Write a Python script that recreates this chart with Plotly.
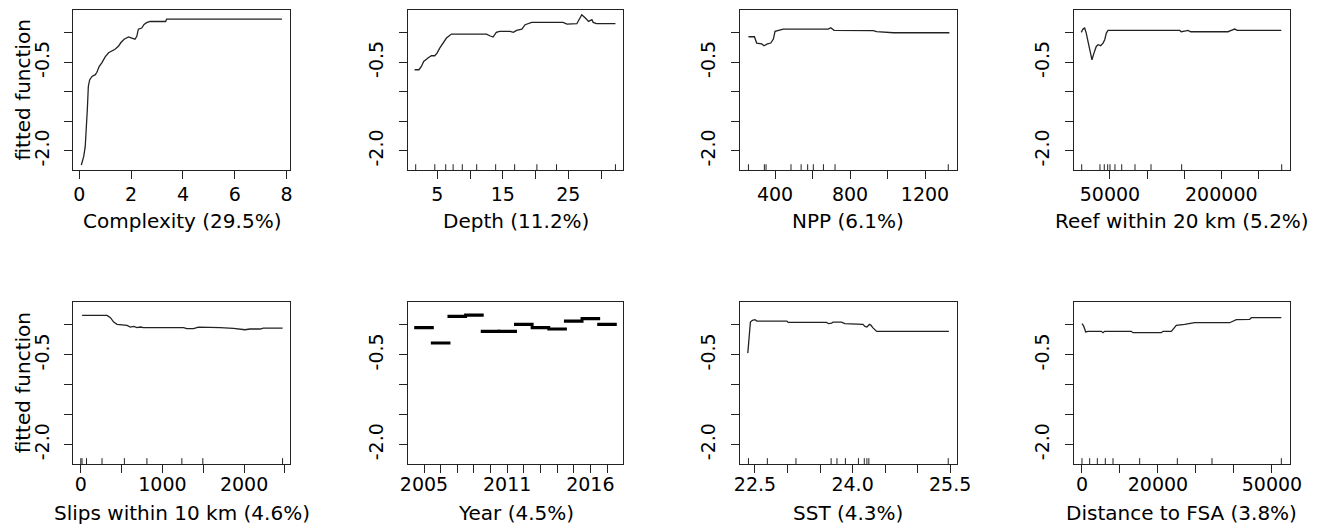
import plotly.graph_objects as go

# ---------------- data ----------------
complexity_x = [0.08, 0.17, 0.23, 0.27, 0.31, 0.35, 0.40, 0.49, 0.62, 0.68, 0.77, 0.87, 1.00, 1.13, 1.38,
                1.51, 1.60, 1.73, 1.90, 2.03, 2.15, 2.22, 2.28, 2.41, 2.50, 2.60, 2.73, 3.33, 3.37, 7.82]
complexity_y = [-2.24, -2.10, -1.93, -1.70, -1.31, -0.91, -0.80, -0.74, -0.71, -0.67, -0.57, -0.51, -0.41, -0.34, -0.28,
                -0.23, -0.17, -0.11, -0.07, -0.09, -0.11, -0.06, 0.06, 0.08, 0.14, 0.17, 0.19, 0.19, 0.23, 0.23]
complexity_rug = []

depth_x = [1.52, 2.18, 2.55, 2.9, 3.56, 4.08, 4.59, 4.94, 5.35, 5.86, 6.38, 7.14, 12.5, 13.0, 13.5, 14.0, 14.5, 16.1,
           16.6, 17.1, 17.9, 18.4, 19.1, 19.4, 24.2, 24.8, 26.3, 26.8, 27.05, 27.6, 28.1, 28.6, 28.8, 29.3, 32.2]
depth_y = [-0.627, -0.627, -0.571, -0.486, -0.429, -0.39, -0.39, -0.345, -0.26, -0.164, -0.09, -0.023, -0.023, -0.051,
           -0.073, 0.006, 0.023, 0.023, 0.006, 0.039, 0.062, 0.136, 0.164, 0.175, 0.175, 0.147, 0.153, 0.249, 0.305,
           0.249, 0.192, 0.22, 0.175, 0.153, 0.153]
depth_rug = [1.68, 4.6, 6.27, 7.4, 8.8, 11.0, 13.9, 16.8, 20.2, 23.2, 32.2]

npp_x = [258, 290, 302, 329, 341, 359, 377, 391, 400, 427, 444, 684, 697, 715, 924, 942, 1022, 1031, 1330]
npp_y = [-0.068, -0.068, -0.175, -0.19, -0.22, -0.19, -0.175, -0.107, 0.023, 0.05, 0.062, 0.062, 0.085, 0.04,
         0.034, 0.017, 0.011, 0.0, 0.0]
npp_rug = [258, 343, 352, 485, 539, 574, 604, 658, 720, 1324]

reef_x = [11300, 13600, 15900, 18000, 20350, 23000, 25700, 28400, 31500, 33800, 37500, 40600, 42900, 45100, 47300,
          143900, 146100, 150700, 155100, 158800, 209000, 213500, 218000, 221600, 280900]
reef_y = [0.006, 0.062, 0.079, -0.006, -0.147, -0.288, -0.458, -0.345, -0.232, -0.203, -0.22, -0.175, -0.119,
          -0.006, 0.039, 0.039, 0.017, 0.028, 0.039, 0.017, 0.017, 0.039, 0.062, 0.039, 0.039]
reef_rug = [11860, 36520, 42300, 46900, 50000, 56700, 65800, 83700, 105300, 146600, 281400]

slips_x = [16, 322, 363, 403, 444, 566, 607, 648, 688, 729, 770, 1259, 1299, 1381, 1442, 1666, 1707, 1870, 1951,
           2012, 2073, 2196, 2236, 2472]
slips_y = [0.157, 0.157, 0.118, 0.045, 0.007, -0.01, -0.038, -0.027, -0.049, -0.038, -0.049, -0.049, -0.066,
           -0.066, -0.038, -0.038, -0.049, -0.06, -0.071, -0.083, -0.071, -0.071, -0.055, -0.055]
slips_rug = [0, 15, 70, 260, 534, 810, 1238, 1495, 2472]

year_cats = ["2005", "2006", "2007", "2008", "2009", "2011", "2012", "2013", "2014", "2015", "2016", "2017"]
year_y = [-0.049, -0.305, 0.14, 0.162, -0.11, -0.11, 0.007, -0.049, -0.071, 0.062, 0.101, 0.007]
year_labels = ["2005", "", "", "", "", "2011", "", "", "", "", "2016", ""]

sst_x = [22.39, 22.40, 22.41, 22.43, 22.46, 22.5, 22.53, 22.99, 23.01, 23.60, 23.63, 23.68, 23.70, 23.83, 23.88,
         24.16, 24.19, 24.22, 24.26, 24.28, 24.31, 24.34, 24.37, 25.48]
sst_y = [-0.473, -0.316, -0.094, 0.045, 0.074, 0.085, 0.062, 0.062, 0.04, 0.04, 0.018, 0.028, 0.045, 0.045, 0.018,
         0.007, -0.027, -0.038, 0.007, -0.005, -0.049, -0.082, -0.11, -0.11]
sst_rug = [22.40, 22.69, 23.13, 23.67, 23.76, 23.89, 24.09, 24.18, 24.22, 24.25, 25.47]

dist_x = [0, 350, 700, 960, 1580, 5090, 5530, 5960, 12980, 13420, 20880, 21320, 23510, 24210, 24820, 27020, 28770,
          29650, 38860, 39740, 40610, 44120, 44560, 52460]
dist_y = [0.018, -0.01, -0.066, -0.121, -0.11, -0.11, -0.133, -0.11, -0.11, -0.133, -0.133, -0.11, -0.11, -0.066,
          -0.01, 0.007, 0.018, 0.034, 0.034, 0.062, 0.085, 0.09, 0.118, 0.118]
dist_rug = [0, 2020, 4040, 6140, 8160, 15180, 25090, 34210, 52460]

titles = ["Complexity (29.5%)", "Depth (11.2%)", "NPP (6.1%)", "Reef within 20 km (5.2%)",
          "Slips within 10 km (4.6%)", "Year (4.5%)", "SST (4.3%)", "Distance to FSA (3.8%)"]

x_tickvals = [
    [0, 2, 4, 6, 8],
    [5, 10, 15, 20, 25, 30],
    [400, 600, 800, 1000, 1200],
    [50000, 100000, 150000, 200000, 250000],
    [0, 500, 1000, 1500, 2000, 2500],
    year_cats,
    [22.5, 23.0, 23.5, 24.0, 24.5, 25.0, 25.5],
    [0, 10000, 20000, 30000, 40000, 50000],
]
x_ticktext = [
    ["0", "2", "4", "6", "8"],
    ["5", "", "15", "", "25", ""],
    ["400", "", "800", "", "1200"],
    ["50000", "", "", "200000", ""],
    ["0", "", "1000", "", "2000", ""],
    year_labels,
    ["22.5", "", "", "24.0", "", "", "25.5"],
    ["0", "", "20000", "", "", "50000"],
]
y_tickvals = [0.0, -0.5, -1.0, -1.5, -2.0]
y_ticktext = ["", "-0.5", "", "", "-2.0"]

# ---------------- layout geometry ----------------
W, H = 1318, 531
col_px = [(73.3, 290.0), (407.7, 623.3), (740.0, 956.7), (1074.0, 1289.7)]
row_px = [(10.0, 170.0), (301.7, 464.0)]
x_ranges = [[-0.23, 8.13], [0.46, 33.4], [213, 1369], [1500, 292200],
            [-92, 2563], [-0.98, 11.98], [22.27, 25.60], [-2100, 54660]]
y_range = [-2.325, 0.385]

FONT = "DejaVu Sans"
TICK_SIZE = 19
TITLE_SIZE = 20

series = [
    (complexity_x, complexity_y, complexity_rug),
    (depth_x, depth_y, depth_rug),
    (npp_x, npp_y, npp_rug),
    (reef_x, reef_y, reef_rug),
    (slips_x, slips_y, slips_rug),
    (None, None, None),
    (sst_x, sst_y, sst_rug),
    (dist_x, dist_y, dist_rug),
]

fig = go.Figure()
layout = dict(
    template="none",
    width=W, height=H, margin=dict(l=0, r=0, t=0, b=0, pad=0), autosize=False,
    paper_bgcolor="white", plot_bgcolor="white", showlegend=False,
    font=dict(family=FONT, color="black", size=TICK_SIZE),
)
shapes = []
annotations = []

for i in range(8):
    n = i + 1
    r, c = divmod(i, 4)
    x0, x1 = col_px[c]
    top, bot = row_px[r]
    xa = "x" if n == 1 else f"x{n}"
    ya = "y" if n == 1 else f"y{n}"
    xkey = "xaxis" if n == 1 else f"xaxis{n}"
    ykey = "yaxis" if n == 1 else f"yaxis{n}"

    xaxis = dict(
        domain=[x0 / W, x1 / W], anchor=ya, range=x_ranges[i], automargin=False,
        showgrid=False, zeroline=False, showline=True, mirror=True,
        linecolor="#222", linewidth=1,
        ticks="outside", ticklen=8, tickwidth=1, tickcolor="#222",
        tickmode="array", tickvals=x_tickvals[i], ticktext=x_ticktext[i],
        tickfont=dict(family=FONT, size=TICK_SIZE, color="black"),
        ticklabelstandoff=-1 if r == 0 else -5,
    )
    if i == 5:
        xaxis["type"] = "category"
        xaxis["categoryorder"] = "array"
        xaxis["categoryarray"] = year_cats
    layout[xkey] = xaxis
    layout[ykey] = dict(
        domain=[1 - bot / H, 1 - top / H], anchor=xa, range=y_range, automargin=False,
        showgrid=False, zeroline=False, showline=True, mirror=True,
        linecolor="#222", linewidth=1,
        ticks="outside", ticklen=8, tickwidth=1, tickcolor="#222",
        tickmode="array", tickvals=y_tickvals, ticktext=y_ticktext,
        tickangle=-90, tickfont=dict(family=FONT, size=TICK_SIZE, color="black"),
        ticklabelstandoff=8,
    )

    xs, ys, rug = series[i]
    if i == 5:
        fig.add_trace(go.Scatter(
            x=year_cats, y=year_y, xaxis=xa, yaxis=ya, mode="markers",
            marker=dict(symbol="line-ew", size=14, color="black",
                        line=dict(color="black", width=3.2)),
            hoverinfo="x+y"))
    else:
        fig.add_trace(go.Scatter(
            x=xs, y=ys, xaxis=xa, yaxis=ya, mode="lines",
            line=dict(color="#222", width=1.3)))
        for v in rug:
            shapes.append(dict(type="line", xref=xa, yref=f"{ya} domain",
                               x0=v, x1=v, y0=0, y1=0.036,
                               line=dict(color="#222", width=1)))

    # x-axis title
    title_y_px = 221.0 if r == 0 else 513.0
    annotations.append(dict(
        text=titles[i], xref=f"{xa} domain", x=0.5, yref="paper", y=1 - title_y_px / H,
        xanchor="center", yanchor="middle", showarrow=False,
        font=dict(family=FONT, size=TITLE_SIZE, color="black")))

# y-axis titles
for (top, bot) in row_px:
    annotations.append(dict(
        text="fitted function", xref="paper", x=22.5 / W, yref="paper", y=1 - (top + bot) / 2 / H,
        xanchor="center", yanchor="middle", textangle=-90, showarrow=False,
        font=dict(family=FONT, size=TITLE_SIZE, color="black")))

layout["shapes"] = shapes
layout["annotations"] = annotations
fig.update_layout(**layout)
fig.write_html("out.html",
               config={"displayModeBar": False},
               post_script="document.body.style.margin='0px';document.body.style.overflow='hidden';")
